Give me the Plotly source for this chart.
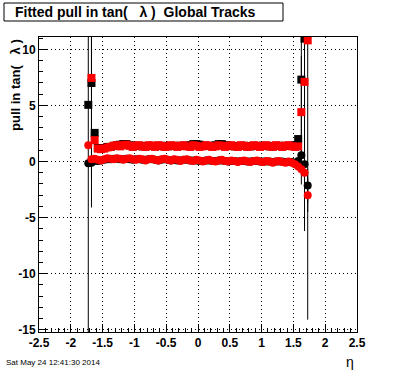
import plotly.graph_objects as go

eta = [-1.725, -1.675, -1.625, -1.575, -1.525, -1.475, -1.425, -1.375, -1.325, -1.275,
       -1.225, -1.175, -1.125, -1.075, -1.025, -0.975, -0.925, -0.875, -0.825, -0.775,
       -0.725, -0.675, -0.625, -0.575, -0.525, -0.475, -0.425, -0.375, -0.325, -0.275,
       -0.225, -0.175, -0.125, -0.075, -0.025, 0.025, 0.075, 0.125, 0.175, 0.225,
       0.275, 0.325, 0.375, 0.425, 0.475, 0.525, 0.575, 0.625, 0.675, 0.725,
       0.775, 0.825, 0.875, 0.925, 0.975, 1.025, 1.075, 1.125, 1.175, 1.225,
       1.275, 1.325, 1.375, 1.425, 1.475, 1.525, 1.575, 1.625, 1.675, 1.725]

# black squares (width)
black_sq = [5.05, 7.0, 2.55, 1.2, 1.15, 1.2, 1.3, 1.3, 1.4, 1.45,
            1.5, 1.55, 1.55, 1.45, 1.35, 1.4, 1.4, 1.35, 1.35, 1.4,
            1.4, 1.35, 1.4, 1.4, 1.35, 1.35, 1.4, 1.4, 1.35, 1.4,
            1.4, 1.4, 1.45, 1.55, 1.55, 1.5, 1.4, 1.4, 1.4, 1.35,
            1.45, 1.55, 1.55, 1.45, 1.4, 1.4, 1.35, 1.35, 1.4, 1.4,
            1.35, 1.35, 1.4, 1.4, 1.35, 1.4, 1.4, 1.35, 1.35, 1.4,
            1.4, 1.35, 1.4, 1.4, 1.4, 1.45, 2.0, 7.3, 10.95, None]
black_sq_err = [22.0, 11.1, 0.3, 0.05, 0.05, 0.05, 0.05, 0.05, 0.05, 0.05,
                0.05, 0.05, 0.05, 0.05, 0.05, 0.05, 0.05, 0.05, 0.05, 0.05,
                0.05, 0.05, 0.05, 0.05, 0.05, 0.05, 0.05, 0.05, 0.05, 0.05,
                0.05, 0.05, 0.05, 0.05, 0.05, 0.05, 0.05, 0.05, 0.05, 0.05,
                0.05, 0.05, 0.05, 0.05, 0.05, 0.05, 0.05, 0.05, 0.05, 0.05,
                0.05, 0.05, 0.05, 0.05, 0.05, 0.05, 0.05, 0.05, 0.05, 0.05,
                0.05, 0.05, 0.05, 0.05, 0.05, 0.1, 0.3, 9.35, 17.15, None]

# black circles (mean)
black_ci = [-0.15, -0.1, 0.05, 0.05, 0.1, 0.15, 0.2, 0.2, 0.25, 0.25,
            0.2, 0.2, 0.25, 0.2, 0.15, 0.2, 0.2, 0.15, 0.15, 0.2,
            0.2, 0.15, 0.1, 0.15, 0.2, 0.15, 0.1, 0.15, 0.1, 0.1,
            0.15, 0.15, 0.1, 0.1, 0.1, 0.05, 0.05, 0.1, 0.1, 0.05,
            0.05, 0.1, 0.1, 0.05, 0.0, 0.05, 0.05, 0.0, 0.05, 0.05,
            0.0, 0.0, 0.05, 0.05, 0.0, 0.0, 0.0, 0.0, -0.05, 0.0,
            0.0, 0.0, -0.05, -0.05, -0.05, -0.1, 0.05, 0.55, -0.25, -2.15]
black_ci_err = [0.1, 0.1, 0.05, 0.05, 0.05, 0.05, 0.05, 0.05, 0.05, 0.05,
                0.05, 0.05, 0.05, 0.05, 0.05, 0.05, 0.05, 0.05, 0.05, 0.05,
                0.05, 0.05, 0.05, 0.05, 0.05, 0.05, 0.05, 0.05, 0.05, 0.05,
                0.05, 0.05, 0.05, 0.05, 0.05, 0.05, 0.05, 0.05, 0.05, 0.05,
                0.05, 0.05, 0.05, 0.05, 0.05, 0.05, 0.05, 0.05, 0.05, 0.05,
                0.05, 0.05, 0.05, 0.05, 0.05, 0.05, 0.05, 0.05, 0.05, 0.05,
                0.05, 0.05, 0.05, 0.05, 0.05, 0.05, 0.1, 0.6, 1.0, 1.5]

# red squares (width)
red_sq = [None, 7.45, 1.9, 1.15, 1.1, 1.15, 1.25, 1.3, 1.4, 1.45,
          1.35, 1.45, 1.5, 1.4, 1.3, 1.4, 1.45, 1.35, 1.3, 1.45,
          1.4, 1.3, 1.45, 1.4, 1.3, 1.35, 1.45, 1.4, 1.3, 1.4,
          1.45, 1.35, 1.3, 1.45, 1.4, 1.3, 1.35, 1.45, 1.4, 1.3,
          1.35, 1.45, 1.4, 1.3, 1.4, 1.45, 1.35, 1.3, 1.45, 1.4,
          1.3, 1.35, 1.45, 1.4, 1.3, 1.4, 1.45, 1.35, 1.3, 1.45,
          1.4, 1.3, 1.4, 1.45, 1.35, 1.3, 1.35, 4.4, 7.1, 10.8]
red_sq_err = [None, 9.0, 0.2, 0.05, 0.05, 0.05, 0.05, 0.05, 0.05, 0.05,
              0.05, 0.05, 0.05, 0.05, 0.05, 0.05, 0.05, 0.05, 0.05, 0.05,
              0.05, 0.05, 0.05, 0.05, 0.05, 0.05, 0.05, 0.05, 0.05, 0.05,
              0.05, 0.05, 0.05, 0.05, 0.05, 0.05, 0.05, 0.05, 0.05, 0.05,
              0.05, 0.05, 0.05, 0.05, 0.05, 0.05, 0.05, 0.05, 0.05, 0.05,
              0.05, 0.05, 0.05, 0.05, 0.05, 0.05, 0.05, 0.05, 0.05, 0.05,
              0.05, 0.05, 0.05, 0.05, 0.05, 0.1, 0.2, 5.0, 9.0, 24.9]

# red circles (mean)
red_ci = [1.45, 0.2, 0.25, 0.15, 0.1, 0.2, 0.3, 0.25, 0.2, 0.3,
          0.25, 0.15, 0.25, 0.3, 0.2, 0.15, 0.25, 0.2, 0.1, 0.2,
          0.25, 0.15, 0.1, 0.2, 0.25, 0.15, 0.1, 0.2, 0.15, 0.05,
          0.15, 0.2, 0.1, 0.05, 0.15, 0.1, 0.0, 0.1, 0.15, 0.05,
          0.0, 0.1, 0.15, 0.05, 0.0, 0.1, 0.05, -0.05, 0.05, 0.1,
          0.0, -0.05, 0.05, 0.1, 0.0, -0.05, 0.05, 0.0, -0.1, 0.0,
          0.05, -0.05, -0.1, 0.0, -0.1, -0.25, -0.45, -0.7, -1.0, -3.0]
red_ci_err = [0.3, 0.1, 0.05, 0.05, 0.05, 0.05, 0.05, 0.05, 0.05, 0.05,
              0.05, 0.05, 0.05, 0.05, 0.05, 0.05, 0.05, 0.05, 0.05, 0.05,
              0.05, 0.05, 0.05, 0.05, 0.05, 0.05, 0.05, 0.05, 0.05, 0.05,
              0.05, 0.05, 0.05, 0.05, 0.05, 0.05, 0.05, 0.05, 0.05, 0.05,
              0.05, 0.05, 0.05, 0.05, 0.05, 0.05, 0.05, 0.05, 0.05, 0.05,
              0.05, 0.05, 0.05, 0.05, 0.05, 0.05, 0.05, 0.05, 0.05, 0.05,
              0.05, 0.05, 0.05, 0.05, 0.05, 0.05, 0.1, 0.5, 0.8, 1.5]

x_ticks = [-2.5, -2, -1.5, -1, -0.5, 0, 0.5, 1, 1.5, 2, 2.5]
x_tick_labels = ["-2.5", "-2", "-1.5", "-1", "-0.5", "0", "0.5", "1", "1.5", "2", "2.5"]
y_ticks = [-15, -10, -5, 0, 5, 10]
y_tick_labels = ["-15", "-10", "-5", "0", "5", "10"]

FONT = "Liberation Sans, Arial, Helvetica, sans-serif"

fig = go.Figure()


def add_series(y, err, color, symbol):
    fig.add_trace(go.Scatter(
        x=eta, y=y, mode="markers",
        marker=dict(symbol=symbol, size=8, color=color, line=dict(width=0)),
        error_y=dict(type="data", array=err, visible=True, color="black",
                     thickness=1, width=0),
        showlegend=False, cliponaxis=True, hoverinfo="skip",
    ))


add_series(black_sq, black_sq_err, "black", "square")
add_series(black_ci, black_ci_err, "black", "circle")
add_series(red_sq, red_sq_err, "#ff0000", "square")
add_series(red_ci, red_ci_err, "#ff0000", "circle")

L, R, T, B = 39, 39, 37, 40
W, H = 396, 372
pw, ph = W - L - R, H - T - B


def px(xp):
    return (xp - L) / pw


def py(yp):
    return (H - B - yp) / ph


axis_common = dict(
    showline=True, linecolor="black", linewidth=1, mirror=True,
    ticks="inside", ticklen=8, tickwidth=1, tickcolor="black",
    showgrid=True, gridcolor="black", gridwidth=1, griddash="1px,3px",
    zeroline=False,
    tickfont=dict(family=FONT, size=12, color="black", weight="bold"),
)

fig.update_xaxes(
    range=[-2.5, 2.5], tickmode="array", tickvals=x_ticks, ticktext=x_tick_labels,
    minor=dict(dtick=0.1, tick0=-2.5, ticks="inside", ticklen=4, tickcolor="black",
               showgrid=False),
    **axis_common,
)
fig.update_yaxes(
    range=[-15.2, 11.1], tickmode="array", tickvals=y_ticks, ticktext=y_tick_labels,
    minor=dict(dtick=1, tick0=-15, ticks="inside", ticklen=4, tickcolor="black",
               showgrid=False),
    **axis_common,
)

fig.add_shape(type="rect", xref="paper", yref="paper",
              x0=px(4), x1=px(283), y0=py(21), y1=py(3),
              line=dict(color="black", width=1), fillcolor="white", layer="above")

fig.add_annotation(text="Fitted pull in tan(   λ )  Global Tracks",
                   xref="paper", yref="paper", x=px(135), y=py(12),
                   showarrow=False, xanchor="center", yanchor="middle",
                   font=dict(family=FONT, size=14, color="black", weight="bold"))

fig.add_annotation(text="pull in tan(   λ )",
                   xref="paper", yref="paper", x=px(15), y=py(37),
                   showarrow=False, xanchor="center", yanchor="top", textangle=-90,
                   font=dict(family=FONT, size=13, color="black", weight="bold"))

fig.add_annotation(text="η", xref="paper", yref="paper", x=px(350), y=py(362),
                   showarrow=False, xanchor="center", yanchor="middle",
                   font=dict(family=FONT, size=14, color="black"))

fig.add_annotation(text="Sat May 24 12:41:30 2014", xref="paper", yref="paper",
                   x=px(4), y=py(363), showarrow=False, xanchor="left", yanchor="middle",
                   font=dict(family=FONT, size=8, color="black"))

fig.update_layout(
    width=W, height=H,
    margin=dict(l=L, r=R, t=T, b=B),
    paper_bgcolor="white", plot_bgcolor="white",
    showlegend=False, hovermode=False,
)

fig.write_html("out.html", config={"displayModeBar": False, "staticPlot": True},
               post_script="document.body.style.margin='0';document.body.style.padding='0';")
